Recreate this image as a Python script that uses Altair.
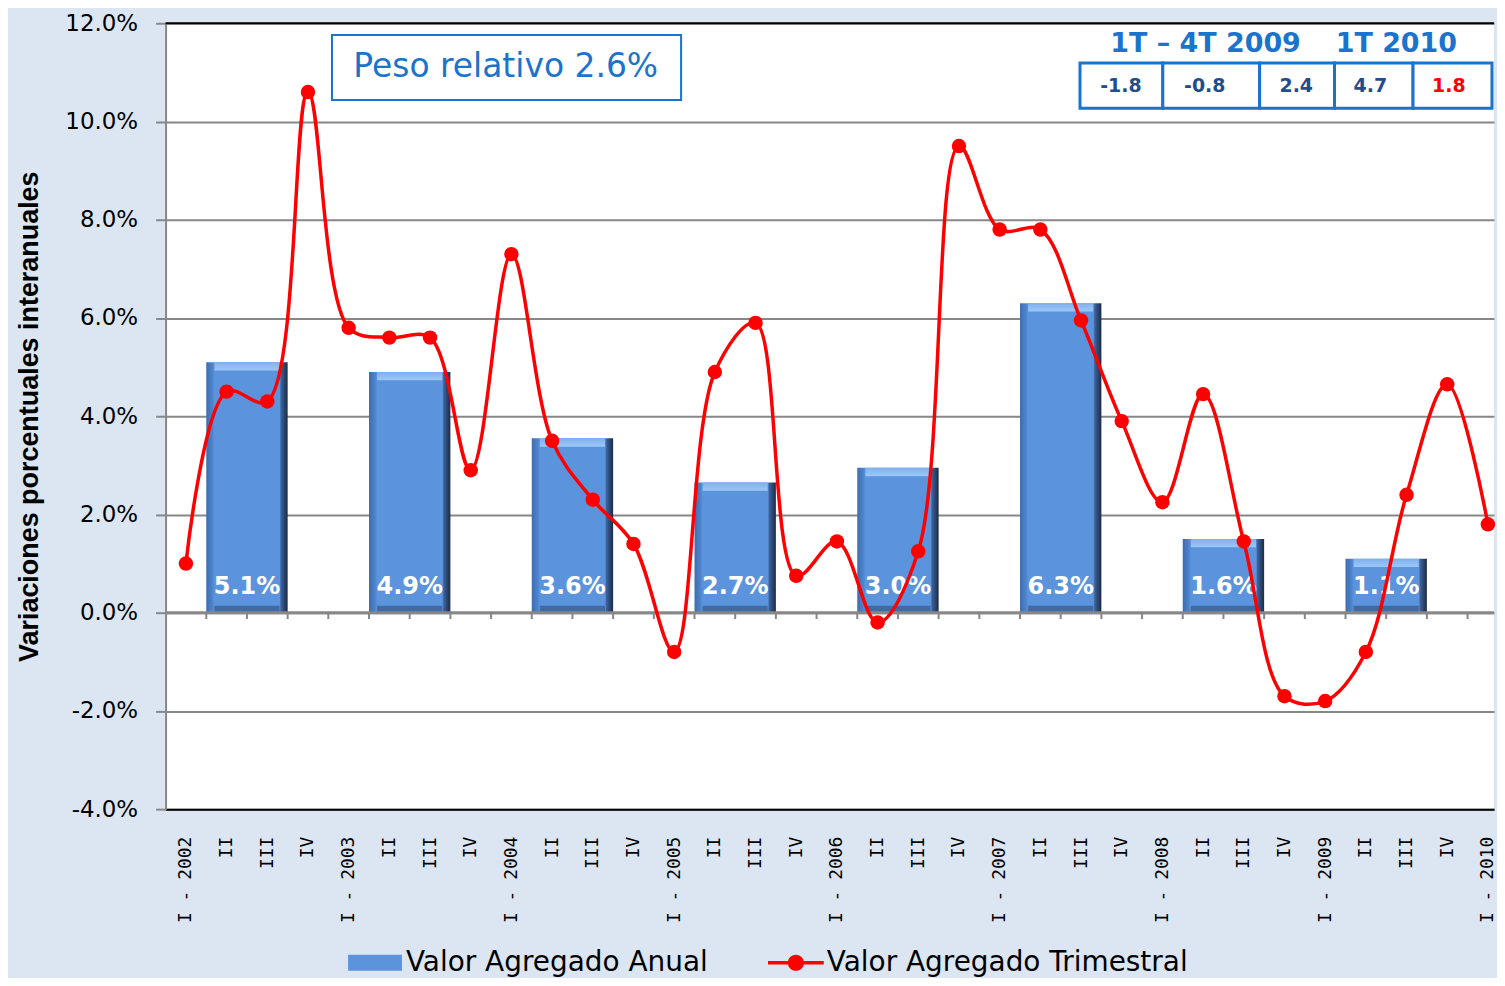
import altair as alt
import pandas as pd

# ---------------- data ----------------
quarters = []
for yr in range(2002, 2010):
    quarters += [f"I - {yr}", "II", "III", "IV"]
quarters += ["I - 2010"]

trimestral = [1.0, 4.5, 4.3, 10.6,
              5.8, 5.6, 5.6, 2.9,
              7.3, 3.5, 2.3, 1.4,
              -0.8, 4.9, 5.9, 0.75,
              1.45, -0.2, 1.25, 9.5,
              7.8, 7.8, 5.95, 3.9,
              2.25, 4.45, 1.45, -1.7,
              -1.8, -0.8, 2.4, 4.65,
              1.8]

years = [2002, 2003, 2004, 2005, 2006, 2007, 2008, 2009]
anual = [5.1, 4.9, 3.55, 2.65, 2.95, 6.3, 1.5, 1.1]
anual_labels = ["5.1%", "4.9%", "3.6%", "2.7%", "3.0%", "6.3%", "1.6%", "1.1%"]

series = ["Valor Agregado Anual", "Valor Agregado Trimestral"]
peso_text = "Peso relativo 2.6%"
table_header = ["1T \u2013 4T 2009", "1T 2010"]
table_values = ["-1.8", "-0.8", "2.4", "4.7", "1.8"]

# ---------------- styles / layout ----------------
BG = "#dce6f2"
BLUE = "#1a73cc"
DARKBLUE = "#1f4e8c"
GRAY = "#878787"
RED = "#ff0000"
FONT = "DejaVu Sans"

n = len(quarters)
x_scale = alt.Scale(domain=[0, 32.65], nice=False, zero=False)
y_scale = alt.Scale(domain=[-4, 12], nice=False, zero=False)

label_js = "[" + ",".join(f"'{q}'" for q in quarters) + "]"
x_axis = alt.Axis(values=[i + 0.5 for i in range(n)],
                  labelExpr=f"{label_js}[floor(datum.value)]",
                  labelAngle=270, labelFont="DejaVu Sans Mono", labelFontSize=18,
                  labelColor="black", ticks=False, domainColor="black",
                  domainWidth=2, grid=False, labelPadding=27, title=None,
                  labelOverlap=False, labelBound=False, labelFlush=False)
y_axis = alt.Axis(values=list(range(-4, 13, 2)),
                  labelExpr="replace(format(datum.value, '.1f'), '\u2212', '-') + '%'",
                  grid=True, gridColor=GRAY, gridWidth=2,
                  domainColor=GRAY, domainWidth=2,
                  tickColor=GRAY, tickWidth=2, tickSize=10,
                  labelFont=FONT, labelFontSize=23, labelColor="black",
                  labelPadding=18,
                  title="Variaciones porcentuales  interanuales",
                  titleFont="Liberation Sans", titleFontSize=27,
                  titleFontWeight="bold", titleColor="black", titlePadding=21)


def X(f):
    return alt.X(f, type="quantitative", scale=x_scale, axis=x_axis)


def Y(f):
    return alt.Y(f, type="quantitative", scale=y_scale, axis=y_axis)


df_q = pd.DataFrame({"pos": [i + 0.5 for i in range(n)], "val": trimestral})
df_a = pd.DataFrame({
    "x0": [4 * k + 1 for k in range(len(years))],
    "x1": [4 * k + 3 for k in range(len(years))],
    "val": anual, "lab": anual_labels,
})
df_a["zero"] = 0.0
df_a["xc"] = (df_a.x0 + df_a.x1) / 2
df_a["x0i"] = df_a.x0 + 0.2
df_a["x1i"] = df_a.x1 - 0.2
df_a["topin"] = df_a.val - 0.17
df_a["botin"] = 0.14

grad_h = alt.Gradient(gradient="linear", x1=0, x2=1, y1=0, y2=0, stops=[
    alt.GradientStop(offset=0.0, color="#3d6cae"),
    alt.GradientStop(offset=0.08, color="#4f86cf"),
    alt.GradientStop(offset=0.1, color="#5b94dc"),
    alt.GradientStop(offset=0.9, color="#5b94dc"),
    alt.GradientStop(offset=0.92, color="#3a609a"),
    alt.GradientStop(offset=1.0, color="#1b2b45"),
])
grad_top = alt.Gradient(gradient="linear", x1=0, x2=0, y1=0, y2=1, stops=[
    alt.GradientStop(offset=0.0, color="#7fb0ee"),
    alt.GradientStop(offset=1.0, color="#9cc7f7"),
])

bars = alt.Chart(df_a).mark_rect(fill=grad_h).encode(
    x=X("x0"), x2="x1", y=Y("zero"), y2="val")
bars_top = alt.Chart(df_a).mark_rect(fill=grad_top).encode(
    x=X("x0i"), x2="x1i", y=Y("topin"), y2="val")
bars_bot = alt.Chart(df_a).mark_rect(fill="#3f6aa6").encode(
    x=X("x0i"), x2="x1i", y=Y("zero"), y2="botin")

df_zero = pd.DataFrame({"y": [0.0]})
zero_line = alt.Chart(df_zero).mark_rule(color=GRAY, strokeWidth=3).encode(y=Y("y"))
df_ticks = pd.DataFrame({"b": list(range(1, n)), "y0": 0.0, "y1": -0.13})
zero_ticks = alt.Chart(df_ticks).mark_rule(color=GRAY, strokeWidth=2).encode(
    x=X("b"), y=Y("y0"), y2="y1")

df_top = pd.DataFrame({"y": [12.0]})
top_line = alt.Chart(df_top).mark_rule(color="black", strokeWidth=2).encode(y=Y("y"))

bar_labels = alt.Chart(df_a).mark_text(
    font=FONT, fontSize=24, fontWeight="bold", color="white",
    baseline="middle", dy=-26).encode(x=X("xc"), y=Y("zero"), text="lab")

line = alt.Chart(df_q).mark_line(color=RED, strokeWidth=3.5,
                                 interpolate="catmull-rom").encode(
    x=X("pos"), y=Y("val"))
points = alt.Chart(df_q).mark_circle(color=RED, size=210, opacity=1).encode(
    x=X("pos"), y=Y("val"))

# --- "Peso relativo" box ---
df_peso = pd.DataFrame({"x0": [4.09], "x1": [12.67], "y0": [10.44], "y1": [11.76],
                        "xc": [8.36], "yc": [11.1], "t": [peso_text]})
peso_box = alt.Chart(df_peso).mark_rect(fill="white", stroke=BLUE, strokeWidth=2).encode(
    x=X("x0"), x2="x1", y=Y("y0"), y2="y1")
peso_txt = alt.Chart(df_peso).mark_text(font=FONT, fontSize=33, color=BLUE,
                                        baseline="middle").encode(
    x=X("xc"), y=Y("yc"), text="t")

# --- table top right ---
edges = [22.475, 24.51, 26.89, 28.73, 30.66, 32.6]
df_cells = pd.DataFrame({
    "x0": edges[:-1], "x1": edges[1:], "y0": 10.27, "y1": 11.19,
    "xc": [23.48, 25.54, 27.79, 29.61, 31.54], "yc": 10.72,
    "t": table_values,
    "col": [DARKBLUE, DARKBLUE, DARKBLUE, DARKBLUE, RED],
})
cells = alt.Chart(df_cells).mark_rect(fill="white", stroke=BLUE, strokeWidth=3).encode(
    x=X("x0"), x2="x1", y=Y("y0"), y2="y1")
cell_txt = alt.Chart(df_cells).mark_text(font=FONT, fontSize=19, fontWeight="bold",
                                         baseline="middle").encode(
    x=X("xc"), y=Y("yc"), text="t", color=alt.Color("col:N", scale=None))
df_head = pd.DataFrame({"xc": [25.56, 30.25], "yc": 11.57, "t": table_header})
head_txt = alt.Chart(df_head).mark_text(font=FONT, fontSize=27, fontWeight="bold",
                                        color=BLUE, baseline="middle").encode(
    x=X("xc"), y=Y("yc"), text="t")

# --- legend via an invisible layer ---
path_bar = "M-2,-0.6H2V0.6H-2Z"
path_line = ("M-2.07,-0.13H-0.5V0.13H-2.07Z M0.5,-0.13H2.07V0.13H0.5Z "
             "M-0.6,0A0.6,0.6 0 1,1 0.6,0A0.6,0.6 0 1,1 -0.6,0Z")
legend = alt.Legend(title=None, orient="none", legendX=196, legendY=928,
                    direction="horizontal", symbolSize=729, symbolStrokeWidth=0,
                    symbolOpacity=1, labelFont=FONT, labelFontSize=28,
                    labelColor="black", labelOffset=17, columnPadding=60,
                    labelLimit=1000, padding=0)
df_leg = pd.DataFrame({"pos": [0.5, 0.5], "val": [0.0, 0.0], "serie": series})
leg_layer = alt.Chart(df_leg).mark_point(filled=True, opacity=0).encode(
    x=X("pos"), y=Y("val"),
    color=alt.Color("serie:N", scale=alt.Scale(domain=series, range=["#5b94dc", RED]),
                    legend=legend),
    shape=alt.Shape("serie:N", scale=alt.Scale(domain=series, range=[path_bar, path_line]),
                    legend=legend),
)

chart = alt.layer(
    leg_layer, bars, bars_top, bars_bot, zero_line, zero_ticks, top_line,
    bar_labels, line, points, peso_box, peso_txt, cells, cell_txt, head_txt,
).properties(
    width=1332, height=788, background=BG,
    padding={"left": 7, "top": 3, "right": 0, "bottom": 0},
).configure_view(stroke=None, fill="white")

chart.save("out.html", embed_options={"renderer": "svg", "actions": False})
